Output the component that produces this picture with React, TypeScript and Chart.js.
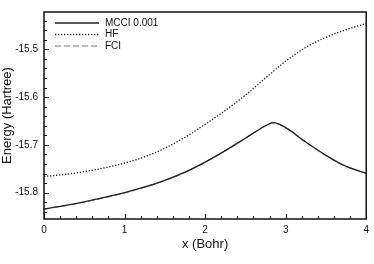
import React, { useEffect, useRef } from "react";
import { Chart, registerables } from "chart.js";

Chart.register(...registerables);

const xValues = [0, 0.25, 0.5, 0.75, 1, 1.25, 1.5, 1.75, 2, 2.25, 2.5, 2.75, 2.85, 3, 3.25, 3.5, 3.75, 4];
const mcciValues = [-15.834, -15.827, -15.819, -15.81, -15.8, -15.788, -15.774, -15.757, -15.736, -15.712, -15.686, -15.66, -15.6535, -15.664, -15.694, -15.722, -15.745, -15.759];
const fciValues = [-15.8345, -15.8275, -15.8196, -15.8106, -15.8006, -15.7886, -15.7746, -15.7576, -15.7366, -15.7125, -15.6864, -15.6603, -15.6538, -15.6643, -15.6943, -15.7223, -15.7453, -15.7593];
const hfX = [0, 0.25, 0.5, 0.75, 1, 1.25, 1.5, 1.75, 2, 2.25, 2.5, 2.75, 3, 3.25, 3.5, 3.75, 4];
const hfValues = [-15.766, -15.762, -15.756, -15.748, -15.738, -15.725, -15.707, -15.684, -15.657, -15.628, -15.596, -15.56, -15.525, -15.496, -15.475, -15.459, -15.446];

const seriesLabels = ["MCCI 0.001", "HF", "FCI"];
const xTitle = "x (Bohr)";
const yTitle = "Energy (Hartree)";
const xMin = 0, xMax = 4, xStep = 1, xMinorStep = 0.2;
const yMin = -15.855, yMax = -15.422, yStep = 0.1, yMinorStep = 0.02;

const FONT = "'Liberation Sans', Arial, Helvetica, sans-serif";

const framePlugin = {
  id: "frameTicks",
  afterDatasetsDraw(chart: any) {
    const { ctx, chartArea: a, scales } = chart;
    const xs = scales.x, ys = scales.y;
    ctx.save();
    ctx.strokeStyle = "#111";
    ctx.lineWidth = 1;
    ctx.beginPath();
    for (let i = 0; xMin + i * xMinorStep <= xMax + 1e-9; i++) {
      const v = xMin + i * xMinorStep;
      const isMajor = Math.abs(v / xStep - Math.round(v / xStep)) < 1e-6;
      const px = Math.round(xs.getPixelForValue(v)) + 0.5;
      ctx.moveTo(px, a.bottom);
      ctx.lineTo(px, a.bottom - (isMajor ? 5 : 3));
    }
    const yStart = Math.ceil(yMin / yMinorStep) * yMinorStep;
    for (let v = yStart; v <= yMax + 1e-9; v += yMinorStep) {
      const r = Math.round(v * 1000) / 1000;
      const isMajor = Math.abs(r / yStep - Math.round(r / yStep)) < 1e-6;
      const py = Math.round(ys.getPixelForValue(r)) + 0.5;
      ctx.moveTo(a.left, py);
      ctx.lineTo(a.left + (isMajor ? 5 : 3), py);
    }
    ctx.stroke();
    ctx.lineWidth = 1.5;
    ctx.strokeStyle = "#111";
    ctx.strokeRect(a.left, a.top, a.right - a.left, a.bottom - a.top);
    const ds = chart.data.datasets;
    ctx.font = `10px ${FONT}`;
    ctx.textBaseline = "middle";
    ctx.fillStyle = "#111";
    ds.forEach((d: any, i: number) => {
      const y = a.top + 11 + i * 11.5;
      ctx.beginPath();
      ctx.lineWidth = d.borderWidth;
      ctx.strokeStyle = d.borderColor;
      ctx.setLineDash(d.borderDash || []);
      ctx.moveTo(a.left + 11, y);
      ctx.lineTo(a.left + 55, y);
      ctx.stroke();
      ctx.setLineDash([]);
      ctx.fillText(d.label, a.left + 61, y);
    });
    ctx.restore();
  },
};

export default function App() {
  const ref = useRef<HTMLCanvasElement | null>(null);
  useEffect(() => {
    if (!ref.current) return;
    const toPts = (xa: number[], ya: number[]) => xa.map((x, i) => ({ x, y: ya[i] }));
    const chart = new Chart(ref.current, {
      type: "line",
      data: {
        datasets: [
          {
            label: seriesLabels[0],
            data: toPts(xValues, mcciValues),
            borderColor: "#222",
            borderWidth: 1.3,
            pointRadius: 0,
            cubicInterpolationMode: "monotone",
          },
          {
            label: seriesLabels[1],
            data: toPts(hfX, hfValues),
            borderColor: "#222",
            borderWidth: 1.3,
            borderDash: [1.3, 1.7],
            pointRadius: 0,
            cubicInterpolationMode: "monotone",
          },
          {
            label: seriesLabels[2],
            data: toPts(xValues, fciValues),
            borderColor: "#777",
            borderWidth: 1.1,
            borderDash: [6, 3],
            pointRadius: 0,
            cubicInterpolationMode: "monotone",
          },
        ],
      } as any,
      options: {
        animation: false,
        responsive: false,
        maintainAspectRatio: false,
        layout: { padding: { top: 5, right: 6, left: 0, bottom: 0 } },
        plugins: { legend: { display: false }, tooltip: { enabled: false } },
        scales: {
          x: {
            type: "linear",
            min: xMin,
            max: xMax,
            grid: { display: false, drawTicks: false },
            border: { display: false },
            ticks: { stepSize: xStep, padding: 5, color: "#111", font: { family: FONT, size: 10 } },
            title: { display: true, text: xTitle, color: "#111", font: { family: FONT, size: 13 }, padding: { top: 0, bottom: 12 } },
            afterFit: (s: any) => { s.height = 45; },
          },
          y: {
            type: "linear",
            min: yMin,
            max: yMax,
            grid: { display: false, drawTicks: false },
            border: { display: false },
            ticks: {
              stepSize: yStep,
              includeBounds: false,
              padding: 6,
              color: "#111",
              font: { family: FONT, size: 10 },
              callback: (v: any) => (Math.round(Number(v) * 10) / 10).toFixed(1),
            },
            title: { display: true, text: yTitle, color: "#111", font: { family: FONT, size: 13 }, padding: { top: 0, bottom: 0 } },
            afterFit: (s: any) => { s.width = 44; },
          },
        },
      } as any,
      plugins: [framePlugin],
    });
    return () => chart.destroy();
  }, []);
  return (
    <div style={{ position: "fixed", left: 0, top: 0, width: 374, height: 264, background: "#fff" }}>
      <canvas ref={ref} width={374} height={264} style={{ width: 374, height: 264, display: "block" }} />
    </div>
  );
}
